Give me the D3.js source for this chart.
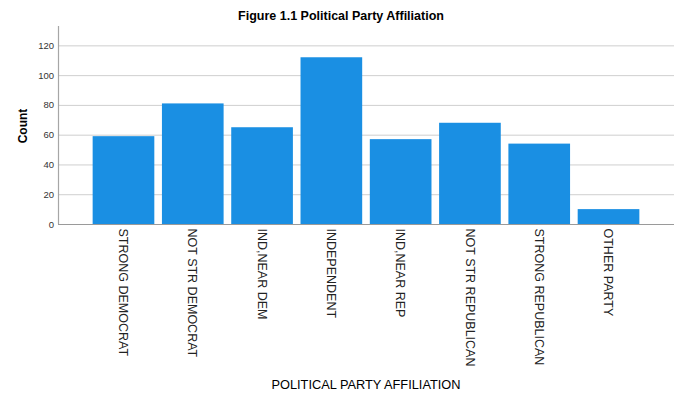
<!DOCTYPE html>
<html>
<head>
<meta charset="utf-8">
<script src="https://cdn.jsdelivr.net/npm/d3@7"></script>
<style>
  body { margin: 0; background: #fff; }
  svg { display: block; font-family: "Liberation Sans", Arial, sans-serif; }
</style>
</head>
<body>
<svg id="chart" width="683" height="403"></svg>
<script>
"use strict";

// values
const categories = ["STRONG DEMOCRAT", "NOT STR DEMOCRAT", "IND,NEAR DEM", "INDEPENDENT",
                    "IND,NEAR REP", "NOT STR REPUBLICAN", "STRONG REPUBLICAN", "OTHER PARTY"];
const counts = [59, 81, 65, 112, 57, 68, 54, 10];
const yTicks = [0, 20, 40, 60, 80, 100, 120];

const svg = d3.select("#chart");
const plotLeft = 58, plotRight = 674, plotTop = 26, plotBottom = 224;

const x = d3.scaleBand()
    .domain(categories)
    .range([plotLeft, plotRight])
    .paddingInner(0.11)
    .paddingOuter(0.5);

const y = d3.scaleLinear()
    .domain([0, 133])
    .range([plotBottom, plotTop]);

// title
svg.append("text")
    .attr("x", 341).attr("y", 20)
    .attr("text-anchor", "middle")
    .style("font-size", "12.5px").style("font-weight", "bold")
    .text("Figure 1.1 Political Party Affiliation");

// grid lines
svg.append("g").selectAll("line")
    .data(yTicks.filter(d => d > 0))
    .enter().append("line")
      .attr("x1", plotLeft).attr("x2", plotRight)
      .attr("y1", d => y(d) + 0.5).attr("y2", d => y(d) + 0.5)
      .attr("stroke", "#cfcfcf").attr("stroke-width", 1);

// bars
svg.append("g").selectAll("rect")
    .data(counts)
    .enter().append("rect")
      .attr("x", (d, i) => x(categories[i]))
      .attr("y", d => y(d))
      .attr("width", x.bandwidth())
      .attr("height", d => plotBottom - y(d))
      .attr("fill", "#1a8fe3");

// y axis
const yAxis = svg.append("g")
    .attr("transform", `translate(${plotLeft},0)`)
    .call(d3.axisLeft(y).tickValues(yTicks).tickSize(0).tickPadding(4));
yAxis.select(".domain").remove();
yAxis.selectAll("text")
    .style("font-size", "9.5px")
    .style("font-family", "'Liberation Sans', Arial, sans-serif")
    .attr("fill", "#333");

svg.append("line")
    .attr("x1", plotLeft + 0.5).attr("x2", plotLeft + 0.5)
    .attr("y1", plotTop).attr("y2", plotBottom)
    .attr("stroke", "#a6a6a6").attr("stroke-width", 1.2);

// x axis
const xAxis = svg.append("g")
    .attr("transform", `translate(0,${plotBottom})`)
    .call(d3.axisBottom(x).tickSize(0));
xAxis.select(".domain").remove();
xAxis.selectAll("text")
    .attr("transform", "rotate(90)")
    .attr("x", 4.5).attr("y", 0).attr("dy", "0.35em")
    .attr("text-anchor", "start")
    .attr("fill", "#222")
    .style("font-size", "12.5px")
    .style("font-family", "'Liberation Sans', Arial, sans-serif");

svg.append("line")
    .attr("x1", plotLeft).attr("x2", plotRight)
    .attr("y1", plotBottom + 0.5).attr("y2", plotBottom + 0.5)
    .attr("stroke", "#9a9a9a").attr("stroke-width", 1.2);

// axis titles
svg.append("text")
    .attr("transform", "translate(26.5,126) rotate(-90)")
    .attr("text-anchor", "middle")
    .style("font-size", "12px").style("font-weight", "bold")
    .text("Count");

svg.append("text")
    .attr("x", 366).attr("y", 389)
    .attr("text-anchor", "middle")
    .style("font-size", "12.8px")
    .text("POLITICAL PARTY AFFILIATION");
</script>
</body>
</html>
